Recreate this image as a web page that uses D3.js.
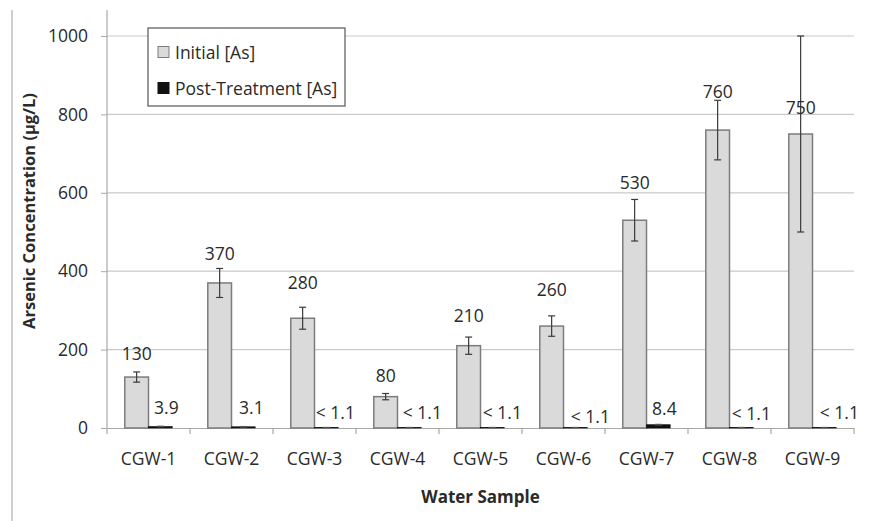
<!DOCTYPE html>
<html>
<head>
<meta charset="utf-8">
<script src="https://cdn.jsdelivr.net/npm/d3@7/dist/d3.min.js"></script>
<style>
  html, body { margin: 0; padding: 0; background: #fff; }
  svg { display: block; }
  text { font-family: "Open Sans", "Liberation Sans", sans-serif; fill: #2a2a2a; }
</style>
</head>
<body>
<svg id="chart" width="870" height="521"></svg>
<script>
// Arsenic concentration before and after treatment, per water sample
const samples = ["CGW-1", "CGW-2", "CGW-3", "CGW-4", "CGW-5", "CGW-6", "CGW-7", "CGW-8", "CGW-9"];
const initialAs = [130, 370, 280, 80, 210, 260, 530, 760, 750];
const initialErr = [13, 37, 28, 8, 22, 26, 53, 76, 250];
const postAs = [3.9, 3.1, 1.1, 1.1, 1.1, 1.1, 8.4, 1.1, 1.1];
const postErr = [0.6, 0.6, 0.3, 0.3, 0.3, 0.3, 0.8, 0.3, 0.3];
const initialLabels = ["130", "370", "280", "80", "210", "260", "530", "760", "750"];
const postLabels = ["3.9", "3.1", "< 1.1", "< 1.1", "< 1.1", "< 1.1", "8.4", "< 1.1", "< 1.1"];
const yTicks = [0, 200, 400, 600, 800, 1000];
const seriesNames = ["Initial [As]", "Post-Treatment [As]"];

// hand-placed label nudges (pixels): initial labels lifted above bar top,
// post labels shifted right of bar centre and lifted above baseline
const initialLabelLift = [24, 30, 36, 22, 31, 37, 38, 39, 27];
const postLabelShift = [6, 8, 9, 13, 10, 15, 6, 10, 15];
const postLabelLift = [21, 21, 16, 16, 16, 12, 20, 15, 16];

const svg = d3.select("#chart");
const plotLeft = 107, plotRight = 854, plotTop = 36, plotBottom = 428;

const x0 = d3.scaleBand().domain(samples).range([plotLeft, plotRight])
  .paddingInner(0.4286).paddingOuter(0.2143);
const x1 = d3.scaleBand().domain(["initial", "post"]).range([0, x0.bandwidth()]);
const y = d3.scaleLinear().domain([0, 1000]).range([plotBottom, plotTop]);

// chart frame edge
svg.append("line").attr("x1", 12).attr("x2", 12).attr("y1", 10).attr("y2", 521)
  .attr("stroke", "#cfcfcf").attr("stroke-width", 2);

// horizontal gridlines
svg.append("g").selectAll("line").data(yTicks.filter(d => d > 0)).join("line")
  .attr("x1", plotLeft).attr("x2", plotRight)
  .attr("y1", d => y(d)).attr("y2", d => y(d))
  .attr("stroke", "#c9c9c9").attr("stroke-width", 1.2);

// y axis
const yAxis = svg.append("g").attr("transform", `translate(${plotLeft},0)`)
  .call(d3.axisLeft(y).tickValues(yTicks).tickSize(6).tickPadding(13).tickFormat(d3.format("d")));
yAxis.select(".domain").remove();
yAxis.selectAll(".tick line").attr("stroke", "#a8a8a8");
yAxis.selectAll(".tick text").style("font-size", "17.5px").attr("fill", "#2a2a2a");
svg.append("line").attr("x1", plotLeft).attr("x2", plotLeft).attr("y1", 10).attr("y2", plotBottom)
  .attr("stroke", "#a8a8a8").attr("stroke-width", 1.2);

// x axis
const xAxis = svg.append("g").attr("transform", `translate(0,${plotBottom})`)
  .call(d3.axisBottom(x0).tickSize(0).tickPadding(25));
xAxis.select(".domain").attr("stroke", "#a8a8a8").attr("stroke-width", 1.2);
xAxis.selectAll(".tick text").style("font-size", "17.5px").attr("fill", "#2a2a2a");
// category boundary ticks
const bounds = samples.map(s => x0(s) - x0.step() * x0.paddingOuter()).concat([plotRight]);
svg.append("g").selectAll("line").data(bounds).join("line")
  .attr("x1", d => d).attr("x2", d => d).attr("y1", plotBottom).attr("y2", plotBottom + 6)
  .attr("stroke", "#a8a8a8").attr("stroke-width", 1.2);

const rows = samples.map((s, i) => ({
  s, init: initialAs[i], initErr: initialErr[i], post: postAs[i], postErr: postErr[i],
  initLabel: initialLabels[i], postLabel: postLabels[i], i
}));

const g = svg.append("g").selectAll("g").data(rows).join("g")
  .attr("transform", d => `translate(${x0(d.s)},0)`);

// initial bars
g.append("rect")
  .attr("x", x1("initial")).attr("width", x1.bandwidth())
  .attr("y", d => y(d.init)).attr("height", d => y(0) - y(d.init))
  .attr("fill", "#dadada").attr("stroke", "#7c7c7c").attr("stroke-width", 1.5);

// post-treatment bars
g.append("rect")
  .attr("x", x1("post")).attr("width", x1.bandwidth())
  .attr("y", d => y(d.post)).attr("height", d => y(0) - y(d.post))
  .attr("fill", "#111").attr("stroke", "#111").attr("stroke-width", 0.6);

// error bars
function errorBar(sel, key, valKey, errKey, color, width) {
  const cx = x1(key) + x1.bandwidth() / 2;
  const eb = sel.append("g").attr("stroke", color).attr("stroke-width", width);
  eb.append("line").attr("x1", cx).attr("x2", cx)
    .attr("y1", d => y(d[valKey] + d[errKey])).attr("y2", d => y(Math.max(0, d[valKey] - d[errKey])));
  eb.append("line").attr("x1", cx - 3.5).attr("x2", cx + 3.5)
    .attr("y1", d => y(d[valKey] + d[errKey])).attr("y2", d => y(d[valKey] + d[errKey]));
  eb.append("line").attr("x1", cx - 3.5).attr("x2", cx + 3.5)
    .attr("y1", d => y(Math.max(0, d[valKey] - d[errKey]))).attr("y2", d => y(Math.max(0, d[valKey] - d[errKey])));
}
errorBar(g, "initial", "init", "initErr", "#3a3a3a", 1.2);
errorBar(g, "post", "post", "postErr", "#555", 1.2);

// value labels
g.append("text")
  .attr("x", x1("initial") + x1.bandwidth() / 2)
  .attr("y", d => y(d.init) - initialLabelLift[d.i])
  .attr("text-anchor", "middle").attr("dominant-baseline", "central")
  .style("font-size", "17.5px").text(d => d.initLabel);
g.append("text")
  .attr("x", d => x1("post") + x1.bandwidth() / 2 + postLabelShift[d.i])
  .attr("y", d => y(0) - postLabelLift[d.i])
  .attr("text-anchor", "middle").attr("dominant-baseline", "central")
  .style("font-size", "17.5px").text(d => d.postLabel);

// axis titles
svg.append("text").attr("x", (plotLeft + plotRight) / 2).attr("y", 496)
  .attr("text-anchor", "middle").attr("dominant-baseline", "central")
  .style("font-size", "17px").style("font-weight", "bold").text("Water Sample");
svg.append("text").attr("transform", "translate(28,211) rotate(-90)")
  .attr("text-anchor", "middle").attr("dominant-baseline", "central")
  .style("font-size", "16.5px").style("font-weight", "bold").text("Arsenic Concentration (µg/L)");

// legend
const lg = svg.append("g");
lg.append("rect").attr("x", 148).attr("y", 28).attr("width", 197).attr("height", 78)
  .attr("fill", "#fff").attr("stroke", "#555").attr("stroke-width", 1.2);
const swatches = [{ fill: "#dadada", stroke: "#7c7c7c" }, { fill: "#111", stroke: "#111" }];
seriesNames.forEach((name, i) => {
  const cy = 52 + i * 36;
  lg.append("rect").attr("x", 158).attr("y", cy - 5.5).attr("width", 11).attr("height", 11)
    .attr("fill", swatches[i].fill).attr("stroke", swatches[i].stroke).attr("stroke-width", 1);
  lg.append("text").attr("x", 175).attr("y", cy).attr("dominant-baseline", "central")
    .style("font-size", "17.5px").text(name);
});
</script>
</body>
</html>
